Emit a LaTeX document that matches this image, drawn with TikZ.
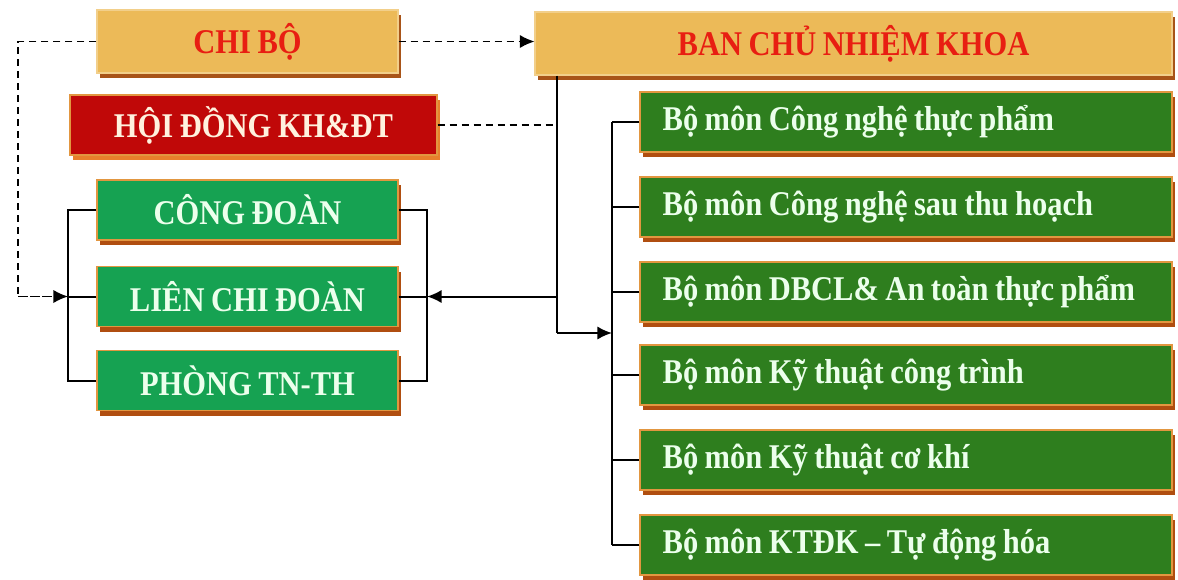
\documentclass[tikz,border=0pt]{standalone}
\usepackage{fontspec}
\setmainfont{Liberation Serif}
\newfontfamily\boxfont[FakeStretch=0.88,WordSpace=0.85]{Liberation Serif}
\usetikzlibrary{arrows.meta}
\definecolor{gold}{RGB}{236,186,88}
\definecolor{goldsh}{RGB}{168,84,24}
\definecolor{redtxt}{RGB}{232,30,18}
\definecolor{darkred}{RGB}{192,8,8}
\definecolor{redsh}{RGB}{232,128,44}
\definecolor{cream}{RGB}{255,242,222}
\definecolor{lgreen}{RGB}{22,162,82}
\definecolor{dgreen}{RGB}{46,126,30}
\definecolor{grsh}{RGB}{176,78,16}
\definecolor{edge}{RGB}{226,150,64}
\definecolor{mint}{RGB}{236,255,236}
\newcommand{\lefttext}[1]{\makebox[365pt][l]{#1}}
\begin{document}
\begin{tikzpicture}[x=0.75pt,y=-0.75pt,
  shbox/.style={preaction={fill=#1,transform canvas={xshift=2.5pt,yshift=-4pt}}},
  boxbase/.style={rectangle,inner sep=0pt,font=\boxfont\bfseries\fontsize{26}{29}\selectfont},
  goldbox/.style={boxbase,fill=gold,draw=gold!70!white,line width=0.8pt,shbox=goldsh,text=redtxt},
  redbox/.style={boxbase,fill=darkred,draw=edge,line width=0.8pt,shbox=redsh,text=cream},
  lgbox/.style={boxbase,fill=lgreen,draw=edge,line width=0.8pt,shbox=grsh,text=mint},
  dgbox/.style={boxbase,fill=dgreen,draw=edge,line width=0.8pt,shbox=grsh,text=mint,
     minimum width=399pt,minimum height=45pt},
  conn/.style={line width=1.5pt,black},
  dconn/.style={line width=1.2pt,black,dash pattern=on 5.5pt off 3.5pt},
  arr/.style={-{Latex[length=11pt,width=10pt]}}
]
\useasboundingbox (0,0) rectangle (1178,579);
% left column
\node[goldbox,minimum width=225.75pt,minimum height=47.25pt] (chibo) at (247.5,41.5) {CHI BỘ};
\node[goldbox,minimum width=477.75pt,minimum height=47.25pt] (ban) at (853.5,43.5) {BAN CHỦ NHIỆM KHOA};
\node[redbox,minimum width=275.25pt,minimum height=45pt] (hd) at (253.5,125) {HỘI ĐỒNG KH\&ĐT};
\node[lgbox,minimum width=225.75pt,minimum height=45pt] (cd) at (247.5,210) {CÔNG ĐOÀN};
\node[lgbox,minimum width=225.75pt,minimum height=45pt] (lcd) at (247.5,296.5) {LIÊN CHI ĐOÀN};
\node[lgbox,minimum width=225.75pt,minimum height=45pt] (ph) at (247.5,380.5) {PHÒNG TN-TH};
% right column
\node[dgbox] (r1) at (906,122) {\lefttext{Bộ môn Công nghệ thực phẩm}};
\node[dgbox] (r2) at (906,207) {\lefttext{Bộ môn Công nghệ sau thu hoạch}};
\node[dgbox] (r3) at (906,292) {\lefttext{Bộ môn DBCL\& An toàn thực phẩm}};
\node[dgbox] (r4) at (906,375) {\lefttext{Bộ môn Kỹ thuật công trình}};
\node[dgbox] (r5) at (906,460) {\lefttext{Bộ môn Kỹ thuật cơ khí}};
\node[dgbox] (r6) at (906,545) {\lefttext{Bộ môn KTĐK – Tự động hóa}};
% helper coordinates
\coordinate (lbx) at (68,0);
\coordinate (dlx) at (18,0);
\coordinate (rbx) at (427,0);
\coordinate (tb) at (557,333);
\coordinate (rx) at (612,0);
% dashed links
\draw[dconn,arr] (chibo.east) -- (chibo.east -| ban.west);
\draw[dconn] (chibo.west) -- (chibo.west -| dlx) |- (lcd.west -| lbx);
\draw[dconn,arr] (lcd.west -| dlx) -- (lcd.west -| lbx);
\draw[dconn] (hd.east) -- (hd.east -| tb);
% left bracket
\draw[conn] (cd.west) -- (cd.west -| lbx) -- (ph.west -| lbx) -- (ph.west);
\draw[conn] (lcd.west) -- (lcd.west -| lbx);
% right bracket of left group
\draw[conn] (cd.east) -- (cd.east -| rbx) -- (ph.east -| rbx) -- (ph.east);
\draw[conn] (lcd.east) -- (lcd.east -| rbx);
% trunk from BAN
\draw[conn] (ban.south -| tb) -- (tb);
\draw[conn,arr] (lcd.east -| tb) -- (lcd.east -| rbx);
\draw[conn,arr] (tb) -- (tb -| rx);
% right bracket
\draw[conn] (r1.west -| rx) -- (r6.west -| rx);
\foreach \n in {r1,r2,r3,r4,r5,r6}{\draw[conn] (\n.west) -- (\n.west -| rx);}
\end{tikzpicture}
\end{document}
